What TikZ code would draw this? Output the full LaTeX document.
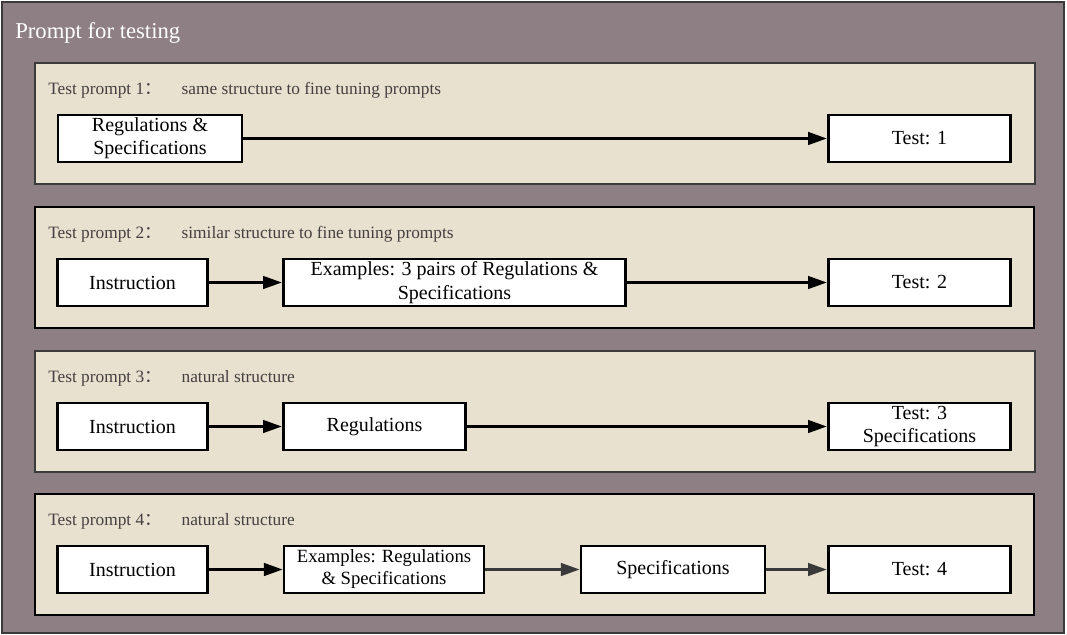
\documentclass[tikz,border=0pt]{standalone}
\usepackage{fontspec}
\setmainfont{Liberation Serif}
\newfontfamily\cjk{Noto Sans CJK SC}
\usetikzlibrary{arrows.meta}
\definecolor{outerfill}{HTML}{8E7F85}
\definecolor{panelfill}{HTML}{E8E1D0}
\definecolor{labelgray}{HTML}{454040}
\definecolor{darkline}{HTML}{3A3A3A}
\tikzset{
  px/.style={x=0.75pt,y=-0.75pt},
  outerbox/.style={draw=darkline,line width=2.2pt,fill=outerfill},
  panelA/.style={draw=darkline,line width=1.8pt,fill=panelfill},
  panelB/.style={draw=black,line width=2.1pt,fill=panelfill},
  plabel/.style={anchor=west,text=labelgray,font=\fontsize{13}{15}\selectfont,inner sep=0},
  box/.style={draw=black,line width=2.1pt,fill=white,inner sep=0,minimum height=35.25pt,align=center,font=\fontsize{15}{17.5}\selectfont},
  arr/.style={line width=1.7pt,-{Triangle[length=14pt,width=9.5pt]}},
  arrg/.style={draw=darkline,line width=1.7pt,-{Triangle[length=14pt,width=9.5pt]}},
}
\newcommand{\fcolon}{{\cjk ：}\hspace{15pt}}
\begin{document}
\begin{tikzpicture}[px]
\useasboundingbox (0,0) rectangle (1067,635);
\draw[outerbox] (2,2) rectangle (1064,633);
\node[anchor=west,text=white,font=\fontsize{17}{20}\selectfont,inner sep=0] (title) at (15,33) {Prompt for testing};
% panels
\draw[panelA] (35,63) rectangle (1035,184);
\draw[panelB] (35,207) rectangle (1034,328);
\draw[panelA] (35,351) rectangle (1035,472);
\draw[panelB] (35,494) rectangle (1034,615);
\node[plabel] (l1) at (48,90) {Test prompt 1\fcolon same structure to fine tuning prompts};
\node[plabel] (l2) at (48,234) {Test prompt 2\fcolon similar structure to fine tuning prompts};
\node[plabel] (l3) at (48,378) {Test prompt 3\fcolon natural structure};
\node[plabel] (l4) at (48,521) {Test prompt 4\fcolon natural structure};
% panel 1
\node[box,minimum width=138pt] (rs1) at (150,138.5) {Regulations \&\\Specifications};
\node[box,minimum width=137pt] (t1) at (919.5,138.5) {Test: 1};
\draw[arr] (rs1) -- (t1);
% panel 2
\node[box,minimum width=112pt] (i2) at (132.5,282.5) {Instruction};
\node[box,minimum width=257pt] (e2) at (454.5,282.5) {Examples: 3 pairs of Regulations \&\\Specifications};
\node[box,minimum width=137pt] (t2) at (919.5,282.5) {Test: 2};
\draw[arr] (i2) -- (e2);
\draw[arr] (e2) -- (t2);
% panel 3
\node[box,minimum width=112pt] (i3) at (132.5,426.5) {Instruction};
\node[box,minimum width=137pt] (r3) at (374.5,426.5) {Regulations};
\node[box,minimum width=137pt] (t3) at (919.5,426.5) {Test: 3\\Specifications};
\draw[arr] (i3) -- (r3);
\draw[arr] (r3) -- (t3);
% panel 4
\node[box,minimum width=112pt] (i4) at (132.5,569.5) {Instruction};
\node[box,minimum width=150pt,font=\fontsize{14}{16.5}\selectfont] (e4) at (384,569.5) {Examples: Regulations\\\& Specifications};
\node[box,minimum width=138pt] (s4) at (673,569.5) {Specifications};
\node[box,minimum width=137pt] (t4) at (919.5,569.5) {Test: 4};
\draw[arr] (i4) -- (e4);
\draw[arrg] (e4) -- (s4);
\draw[arrg] (s4) -- (t4);
\end{tikzpicture}
\end{document}
